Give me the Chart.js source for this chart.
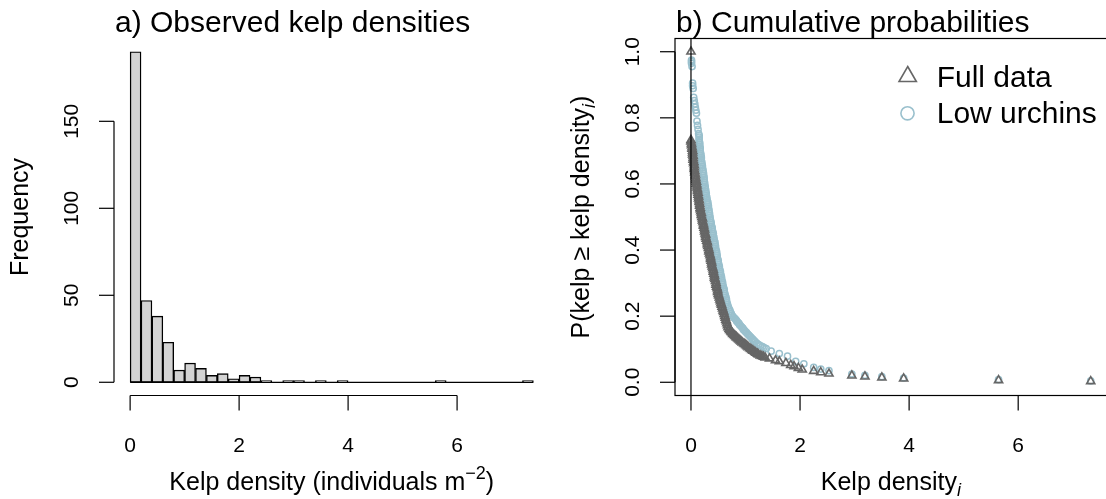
<!DOCTYPE html>
<html>
<head>
<meta charset="utf-8">
<script src="https://cdn.jsdelivr.net/npm/chart.js@4.4.1/dist/chart.umd.min.js"></script>
<style>
  html, body { margin: 0; padding: 0; background: #fff; overflow: hidden; width: 1106px; height: 499px; }
  canvas { position: absolute; top: 0; }
  #histChart { left: 0; }
  #cumChart { left: 553px; }
</style>
</head>
<body>
<canvas id="histChart" width="553" height="499"></canvas>
<canvas id="cumChart" width="560" height="499"></canvas>
<script>
// ---- panel a: histogram, bins of 0.2 from 0 to 7.4
const binMids = [0.1, 0.3, 0.5, 0.7, 0.9, 1.1, 1.3, 1.5, 1.7, 1.9,
                 2.1, 2.3, 2.5, 2.7, 2.9, 3.1, 3.3, 3.5, 3.7, 3.9,
                 4.1, 4.3, 4.5, 4.7, 4.9, 5.1, 5.3, 5.5, 5.7, 5.9,
                 6.1, 6.3, 6.5, 6.7, 6.9, 7.1, 7.3];
const binCounts = [190, 47, 38, 23, 7, 11, 8, 4, 5, 2,
                   4, 3, 1, 0, 1, 1, 0, 1, 0, 1,
                   0, 0, 0, 0, 0, 0, 0, 0, 1, 0,
                   0, 0, 0, 0, 0, 0, 1];
const histXTicks = [0, 2, 4, 6];
const histYTicks = [0, 50, 100, 150];

// ---- panel b: cumulative probabilities P(kelp >= kelp density_i)
const fullDensity = [0, 0.00, 0.00, 0.01, 0.01, 0.02, 0.02, 0.03, 0.03, 0.03,
                     0.04, 0.04, 0.04, 0.05, 0.05, 0.06, 0.06, 0.06, 0.07, 0.07,
                     0.08, 0.08, 0.09, 0.09, 0.10, 0.10, 0.11, 0.11, 0.12, 0.12,
                     0.13, 0.13, 0.14, 0.14, 0.15, 0.15, 0.16, 0.16, 0.17, 0.17,
                     0.18, 0.19, 0.19, 0.20, 0.21, 0.21, 0.22, 0.23, 0.23, 0.24,
                     0.25, 0.25, 0.26, 0.27, 0.27, 0.28, 0.29, 0.30, 0.30, 0.31,
                     0.32, 0.33, 0.33, 0.34, 0.35, 0.36, 0.36, 0.37, 0.38, 0.38,
                     0.39, 0.40, 0.41, 0.41, 0.42, 0.43, 0.43, 0.44, 0.45, 0.46,
                     0.46, 0.47, 0.48, 0.49, 0.49, 0.50, 0.51, 0.52, 0.53, 0.54,
                     0.55, 0.56, 0.57, 0.58, 0.59, 0.60, 0.61, 0.62, 0.63, 0.64,
                     0.65, 0.66, 0.67, 0.68, 0.70, 0.71, 0.73, 0.74, 0.76, 0.77,
                     0.79, 0.81, 0.83, 0.84, 0.86, 0.88, 0.90, 0.92, 0.94, 0.97,
                     0.99, 1.01, 1.03, 1.05, 1.08, 1.10, 1.12, 1.14, 1.17, 1.19,
                     1.22, 1.24, 1.27, 1.30, 1.33, 1.36, 1.44, 1.55, 1.62, 1.74,
                     1.83, 1.89, 1.97, 2.04, 2.25, 2.38, 2.53, 2.95, 3.19, 3.50,
                     3.90, 5.64, 7.33];
const fullProb = [1.000, 0.733, 0.728, 0.722, 0.717, 0.711, 0.706, 0.700, 0.695, 0.689,
                  0.684, 0.678, 0.673, 0.667, 0.662, 0.656, 0.650, 0.645, 0.639, 0.634,
                  0.628, 0.623, 0.617, 0.612, 0.606, 0.600, 0.595, 0.589, 0.584, 0.578,
                  0.573, 0.567, 0.562, 0.556, 0.550, 0.545, 0.539, 0.534, 0.528, 0.523,
                  0.517, 0.512, 0.506, 0.500, 0.495, 0.489, 0.484, 0.478, 0.473, 0.467,
                  0.462, 0.456, 0.450, 0.445, 0.439, 0.434, 0.428, 0.423, 0.417, 0.412,
                  0.406, 0.400, 0.395, 0.389, 0.384, 0.378, 0.373, 0.367, 0.362, 0.356,
                  0.350, 0.345, 0.339, 0.334, 0.328, 0.323, 0.317, 0.312, 0.306, 0.300,
                  0.295, 0.289, 0.284, 0.278, 0.273, 0.267, 0.262, 0.256, 0.250, 0.245,
                  0.239, 0.234, 0.228, 0.223, 0.217, 0.212, 0.206, 0.200, 0.195, 0.189,
                  0.184, 0.178, 0.172, 0.166, 0.162, 0.158, 0.155, 0.152, 0.149, 0.146,
                  0.143, 0.140, 0.137, 0.135, 0.132, 0.129, 0.126, 0.123, 0.120, 0.117,
                  0.115, 0.112, 0.109, 0.106, 0.103, 0.100, 0.097, 0.095, 0.092, 0.089,
                  0.086, 0.084, 0.081, 0.079, 0.077, 0.075, 0.072, 0.066, 0.063, 0.058,
                  0.052, 0.048, 0.043, 0.038, 0.034, 0.030, 0.026, 0.020, 0.017, 0.014,
                  0.011, 0.006, 0.003];
const lowDensity = [0.01, 0.01, 0.01, 0.02, 0.03, 0.03, 0.04, 0.05, 0.06, 0.07,
                    0.08, 0.09, 0.10, 0.11, 0.12, 0.13, 0.14, 0.15, 0.15, 0.15,
                    0.15, 0.16, 0.16, 0.16, 0.17, 0.17, 0.17, 0.18, 0.18, 0.19,
                    0.19, 0.19, 0.20, 0.20, 0.21, 0.21, 0.22, 0.22, 0.23, 0.23,
                    0.24, 0.24, 0.24, 0.25, 0.25, 0.26, 0.26, 0.27, 0.27, 0.28,
                    0.28, 0.29, 0.29, 0.30, 0.31, 0.31, 0.32, 0.32, 0.33, 0.33,
                    0.34, 0.34, 0.35, 0.35, 0.36, 0.37, 0.37, 0.38, 0.39, 0.39,
                    0.40, 0.41, 0.41, 0.42, 0.42, 0.43, 0.44, 0.44, 0.45, 0.45,
                    0.46, 0.47, 0.47, 0.48, 0.48, 0.49, 0.50, 0.50, 0.51, 0.52,
                    0.52, 0.53, 0.54, 0.54, 0.55, 0.56, 0.56, 0.57, 0.58, 0.58,
                    0.59, 0.60, 0.61, 0.61, 0.62, 0.63, 0.64, 0.65, 0.65, 0.66,
                    0.67, 0.68, 0.69, 0.71, 0.72, 0.74, 0.75, 0.77, 0.79, 0.81,
                    0.83, 0.84, 0.86, 0.88, 0.89, 0.91, 0.93, 0.95, 0.96, 0.98,
                    1.00, 1.02, 1.04, 1.06, 1.08, 1.10, 1.12, 1.14, 1.16, 1.18,
                    1.21, 1.24, 1.27, 1.31, 1.34, 1.38, 1.47, 1.62, 1.77, 1.92,
                    2.07, 2.25, 2.38, 2.53, 2.95, 3.19, 3.50, 3.90, 5.64, 7.33];
const lowProb = [0.975, 0.970, 0.965, 0.955, 0.905, 0.897, 0.889, 0.862, 0.852, 0.842,
                 0.832, 0.823, 0.814, 0.790, 0.777, 0.765, 0.752, 0.747, 0.742, 0.736,
                 0.731, 0.725, 0.720, 0.714, 0.709, 0.703, 0.698, 0.692, 0.687, 0.681,
                 0.676, 0.670, 0.665, 0.659, 0.654, 0.648, 0.643, 0.637, 0.632, 0.626,
                 0.621, 0.615, 0.610, 0.604, 0.599, 0.593, 0.588, 0.582, 0.577, 0.571,
                 0.566, 0.560, 0.555, 0.549, 0.544, 0.538, 0.533, 0.527, 0.522, 0.516,
                 0.511, 0.505, 0.500, 0.494, 0.489, 0.483, 0.478, 0.472, 0.467, 0.461,
                 0.456, 0.450, 0.445, 0.439, 0.434, 0.428, 0.423, 0.417, 0.412, 0.406,
                 0.401, 0.395, 0.390, 0.384, 0.379, 0.373, 0.368, 0.362, 0.357, 0.351,
                 0.346, 0.340, 0.335, 0.329, 0.324, 0.318, 0.313, 0.307, 0.302, 0.296,
                 0.291, 0.285, 0.280, 0.274, 0.269, 0.263, 0.258, 0.252, 0.247, 0.241,
                 0.236, 0.230, 0.225, 0.219, 0.214, 0.208, 0.203, 0.199, 0.195, 0.192,
                 0.188, 0.185, 0.181, 0.178, 0.174, 0.171, 0.167, 0.164, 0.160, 0.157,
                 0.153, 0.150, 0.146, 0.143, 0.139, 0.136, 0.132, 0.129, 0.125, 0.122,
                 0.118, 0.114, 0.111, 0.108, 0.105, 0.102, 0.094, 0.087, 0.079, 0.063,
                 0.056, 0.045, 0.040, 0.035, 0.025, 0.021, 0.017, 0.013, 0.008, 0.004];
const cumXTicks = [0, 2, 4, 6];
const cumYTicks = [0, 0.2, 0.4, 0.6, 0.8, 1.0];
const cumYLabels = ['0.0', '0.2', '0.4', '0.6', '0.8', '1.0'];

const FAMILY = '"Liberation Sans", Arial, Helvetica, sans-serif';
const GRAY = '#666666';
const BLUE = '#9ac0cd';

function font(size, italic) {
  return (italic ? 'italic ' : '') + size + 'px ' + FAMILY;
}

// text made of pieces (for sub/superscripts), centred on x
function drawRich(ctx, parts, x, y, angle) {
  ctx.save();
  ctx.translate(x, y);
  ctx.rotate(angle || 0);
  ctx.textAlign = 'left';
  ctx.textBaseline = 'alphabetic';
  let total = 0;
  parts.forEach(p => {
    ctx.font = font(p.size, p.italic);
    p.w = ctx.measureText(p.text).width;
    total += p.w;
  });
  let cx = -total / 2;
  parts.forEach(p => {
    ctx.font = font(p.size, p.italic);
    ctx.fillText(p.text, cx, p.dy || 0);
    cx += p.w;
  });
  ctx.restore();
}

function line(ctx, x0, y0, x1, y1) {
  ctx.beginPath();
  ctx.moveTo(x0, y0);
  ctx.lineTo(x1, y1);
  ctx.stroke();
}

// base-graphics style axes, titles, box and legend
const rAxes = {
  id: 'rAxes',
  afterDatasetsDraw(chart, args, o) {
    const ctx = chart.ctx;
    const area = chart.chartArea;
    const xs = chart.scales.x, ys = chart.scales.y;
    ctx.save();
    ctx.strokeStyle = '#000';
    ctx.fillStyle = '#000';
    ctx.lineWidth = 1.2;

    if (o.baseline) {
      line(ctx, xs.getPixelForValue(o.baseline[0]), ys.getPixelForValue(0),
                xs.getPixelForValue(o.baseline[1]), ys.getPixelForValue(0));
    }
    if (o.vline !== undefined) {
      const vx = xs.getPixelForValue(o.vline);
      line(ctx, vx, area.top, vx, area.bottom);
    }
    if (o.box) {
      ctx.strokeRect(area.left, area.top, area.right - area.left, area.bottom - area.top);
    }

    // x axis
    const xt = o.xTicks;
    line(ctx, xs.getPixelForValue(xt[0]), area.bottom, xs.getPixelForValue(xt[xt.length - 1]), area.bottom);
    ctx.font = font(21);
    ctx.textAlign = 'center';
    ctx.textBaseline = 'alphabetic';
    xt.forEach((v, i) => {
      const px = xs.getPixelForValue(v);
      line(ctx, px, area.bottom, px, area.bottom + 15);
      ctx.fillText(o.xLabels[i], px, 451.5);
    });

    // y axis
    const yt = o.yTicks;
    line(ctx, area.left, ys.getPixelForValue(yt[0]), area.left, ys.getPixelForValue(yt[yt.length - 1]));
    yt.forEach((v, i) => {
      const py = ys.getPixelForValue(v);
      line(ctx, area.left, py, area.left - 15, py);
      ctx.save();
      ctx.translate(area.left - 36, py);
      ctx.rotate(-Math.PI / 2);
      ctx.font = font(21);
      ctx.textAlign = 'center';
      ctx.fillText(o.yLabels[i], 0, 0);
      ctx.restore();
    });

    // axis titles
    drawRich(ctx, o.xTitle, (area.left + area.right) / 2, 490);
    drawRich(ctx, o.yTitle, area.left - 86, (area.top + area.bottom) / 2, -Math.PI / 2);

    // main title, left aligned on the plot region
    ctx.font = font(30);
    ctx.textAlign = 'left';
    ctx.fillText(o.main, area.left + 1, 31.5);

    // legend
    if (o.legend) {
      o.legend.forEach(item => {
        ctx.strokeStyle = item.color;
        ctx.lineWidth = 1.6;
        ctx.beginPath();
        if (item.shape === 'triangle') {
          const r = 10;
          ctx.moveTo(item.x, item.y - r);
          ctx.lineTo(item.x + 0.866 * r, item.y + r / 2);
          ctx.lineTo(item.x - 0.866 * r, item.y + r / 2);
          ctx.closePath();
        } else {
          ctx.arc(item.x, item.y, 6.6, 0, Math.PI * 2);
        }
        ctx.stroke();
        ctx.fillStyle = '#000';
        ctx.font = font(30);
        ctx.fillText(item.text, item.tx, item.ty);
      });
    }
    ctx.restore();
  }
};

Chart.defaults.font.family = FAMILY;

// panel a
new Chart(document.getElementById('histChart'), {
  type: 'bar',
  data: {
    datasets: [{
      data: binMids.map((m, i) => ({ x: m, y: binCounts[i] })),
      backgroundColor: '#d3d3d3',
      borderColor: '#000',
      borderWidth: 1.4,
      borderSkipped: false,
      barPercentage: 1,
      categoryPercentage: 1
    }]
  },
  options: {
    responsive: false,
    animation: false,
    events: [],
    layout: { padding: { left: 114, right: 3.5, top: 38.5, bottom: 103.5 } },
    scales: {
      x: { type: 'linear', min: -0.296, max: 7.696, offset: false, display: false },
      y: { type: 'linear', min: -7.6, max: 197.6, display: false }
    },
    plugins: {
      legend: { display: false },
      tooltip: { enabled: false },
      rAxes: {
        baseline: [0, 7.4],
        xTicks: histXTicks,
        xLabels: histXTicks.map(String),
        yTicks: histYTicks,
        yLabels: histYTicks.map(String),
        main: 'a) Observed kelp densities',
        xTitle: [
          { text: 'Kelp density (individuals m', size: 25 },
          { text: '\u22122', size: 18, dy: -11 },
          { text: ')', size: 25 }
        ],
        yTitle: [{ text: 'Frequency', size: 25 }]
      }
    }
  },
  plugins: [rAxes]
});

// panel b
new Chart(document.getElementById('cumChart'), {
  type: 'scatter',
  data: {
    datasets: [{
      label: 'Full data',
      data: fullDensity.map((d, i) => ({ x: d, y: fullProb[i] })),
      pointStyle: 'triangle',
      pointRadius: 4.7,
      borderWidth: 1.6,
      borderColor: GRAY,
      backgroundColor: 'rgba(0,0,0,0)'
    }, {
      label: 'Low urchins',
      data: lowDensity.map((d, i) => ({ x: d, y: lowProb[i] })),
      pointStyle: 'circle',
      pointRadius: 3.1,
      borderWidth: 1.5,
      borderColor: BLUE,
      backgroundColor: 'rgba(0,0,0,0)'
    }]
  },
  options: {
    responsive: false,
    animation: false,
    events: [],
    layout: { padding: { left: 122, right: 4.5, top: 38.5, bottom: 103.5 } },
    scales: {
      x: { type: 'linear', min: -0.293, max: 7.623, display: false },
      y: { type: 'linear', min: -0.04, max: 1.04, display: false }
    },
    plugins: {
      legend: { display: false },
      tooltip: { enabled: false },
      rAxes: {
        box: true,
        vline: 0,
        xTicks: cumXTicks,
        xLabels: cumXTicks.map(String),
        yTicks: cumYTicks,
        yLabels: cumYLabels,
        main: 'b) Cumulative probabilities',
        xTitle: [
          { text: 'Kelp density', size: 25 },
          { text: 'i', size: 18, italic: true, dy: 6 }
        ],
        yTitle: [
          { text: 'P(kelp \u2265 kelp density', size: 25 },
          { text: 'i', size: 18, italic: true, dy: 6 },
          { text: ')', size: 25 }
        ],
        legend: [
          { shape: 'triangle', color: GRAY, x: 354.7, y: 76.5, text: 'Full data', tx: 383.7, ty: 86.7 },
          { shape: 'circle', color: BLUE, x: 354.5, y: 113.3, text: 'Low urchins', tx: 383.7, ty: 123.3 }
        ]
      }
    }
  },
  plugins: [rAxes]
});
</script>
</body>
</html>
